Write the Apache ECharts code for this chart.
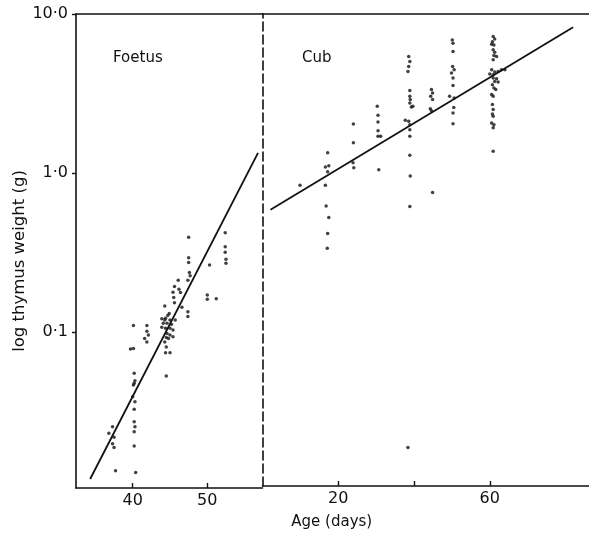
<!DOCTYPE html>
<html>
<head>
<meta charset="utf-8">
<script src="https://cdn.jsdelivr.net/npm/echarts@6.0.0/dist/echarts.min.js"></script>
<style>
  html, body { margin: 0; padding: 0; background: #fff; }
  #chart { width: 589px; height: 535px; }
</style>
</head>
<body>
<div id="chart"></div>
<script>
// foetal thymus weights: [age in days, weight in g]
var foetusPoints = [
  [36.8, 0.0231], [37.3, 0.0254], [37.5, 0.0218], [37.3, 0.0198], [37.5, 0.0188], [37.7, 0.0134],
  [40.1, 0.110], [39.7, 0.0782], [40.1, 0.0789], [40.2, 0.055], [40.3, 0.0494], [40.2, 0.0476],
  [40.1, 0.0464], [40.0, 0.0392], [40.3, 0.0365], [40.2, 0.0327], [40.2, 0.0273], [40.3, 0.0254],
  [40.2, 0.0236], [40.2, 0.0192], [40.4, 0.0131],
  [41.9, 0.110], [41.9, 0.101], [42.1, 0.0958], [41.6, 0.0912], [41.9, 0.0866],
  [44.3, 0.146], [44.9, 0.131], [44.7, 0.127], [44.4, 0.122], [43.9, 0.121], [44.3, 0.119],
  [45.0, 0.119], [45.7, 0.119], [44.1, 0.1135], [44.6, 0.1135], [45.2, 0.112], [43.9, 0.107],
  [44.4, 0.1055], [45.0, 0.1055], [45.4, 0.103], [44.6, 0.098], [45.0, 0.0958], [45.4, 0.0934],
  [44.5, 0.0925], [44.8, 0.0912], [44.3, 0.0866], [44.5, 0.0806], [44.4, 0.0741], [45.0, 0.0741],
  [44.5, 0.0529], [46.1, 0.212], [45.6, 0.193], [46.2, 0.186], [45.4, 0.178], [46.4, 0.177],
  [45.5, 0.165], [45.6, 0.153], [46.6, 0.143],
  [47.5, 0.394], [47.5, 0.293], [47.5, 0.274], [47.6, 0.237], [47.7, 0.226], [47.4, 0.212],
  [47.4, 0.134], [47.4, 0.125],
  [50.3, 0.264], [50.0, 0.171], [50.0, 0.161], [51.2, 0.162],
  [52.4, 0.421], [52.4, 0.344], [52.4, 0.317], [52.5, 0.287], [52.5, 0.271]
];

// cub thymus weights: [age in days after birth, weight in g]
var cubPoints = [
  [9.9, 0.828],
  [17.2, 1.33], [16.6, 1.08], [17.5, 1.10], [17.2, 1.01], [16.6, 0.828], [16.8, 0.614],
  [17.5, 0.519], [17.2, 0.411], [17.1, 0.331],
  [24.0, 2.02], [24.0, 1.54], [23.9, 1.15], [24.1, 1.07],
  [30.3, 2.61], [30.5, 2.29], [30.5, 2.08], [30.5, 1.83], [30.5, 1.69], [31.2, 1.69], [30.7, 1.04],
  [38.6, 5.39], [38.9, 5.01], [38.6, 4.66], [38.4, 4.34], [38.9, 3.29], [38.9, 3.02], [39.0, 2.88],
  [38.9, 2.74], [39.3, 2.59], [39.7, 2.61], [37.7, 2.13], [38.6, 2.10], [38.9, 2.00], [38.9, 1.86],
  [38.9, 1.69], [38.9, 1.28], [39.0, 0.948], [38.9, 0.608], [38.4, 0.0183],
  [44.6, 3.33], [44.9, 3.17], [44.4, 3.02], [44.9, 2.88], [44.3, 2.52], [44.6, 2.45], [44.9, 0.745],
  [50.1, 6.86], [50.3, 6.54], [50.3, 5.79], [50.2, 4.66], [50.6, 4.45], [49.9, 4.24], [50.3, 3.94],
  [50.3, 3.54], [49.4, 3.02], [50.6, 2.95], [50.5, 2.57], [50.3, 2.37], [50.3, 2.03],
  [60.9, 7.20], [61.3, 6.96], [60.7, 6.69], [60.5, 6.45], [61.1, 6.38], [60.9, 5.94], [61.3, 5.74],
  [61.1, 5.47], [61.8, 5.39], [60.9, 5.14], [60.5, 4.45], [60.0, 4.18], [60.9, 4.13], [61.3, 4.30],
  [62.2, 4.34], [63.1, 4.45], [64.0, 4.45], [60.9, 3.94], [61.8, 3.90], [61.3, 3.75], [62.2, 3.72],
  [60.7, 3.57], [61.1, 3.41], [61.6, 3.33], [60.5, 3.10], [60.9, 3.02], [60.7, 2.68], [60.9, 2.49],
  [60.7, 2.34], [60.9, 2.26], [60.5, 2.05], [61.1, 2.00], [60.9, 1.91], [60.9, 1.36]
];

// fitted lines (end points)
var foetusLine = [[34.3, 0.0119], [56.8, 1.34]];
var cubLine = [[2.1, 0.58], [82.0, 8.25]];

var foetusTicks = [40, 50];
var cubTicks = [20, 40, 60];
var cubTickLabels = [20, 60];
var weightTicks = [0.1, 1, 10];
var weightLabels = { '0.1': '0·1', '1': '1·0', '10': '10·0' };

var ink = '#111';
var numFont = 'DejaVu Sans';

var chart = echarts.init(document.getElementById('chart'));

var axisLine = { show: true, onZero: false, lineStyle: { color: ink, width: 1.6 } };

var option = {
  backgroundColor: '#fff',
  animation: false,
  grid: [
    { left: 76, top: 14, width: 186.5, bottom: 47 },
    { left: 262.5, top: 14, right: 0, bottom: 47 }
  ],
  xAxis: [
    {
      gridIndex: 0, type: 'value', min: 32.4, max: 57.4,
      axisLine: axisLine,
      axisTick: { show: true, inside: true, length: 5, customValues: foetusTicks, lineStyle: { color: ink, width: 1.4 } },
      axisLabel: { customValues: foetusTicks, margin: 5, color: ink, fontFamily: numFont, fontSize: 16 },
      splitLine: { show: false }
    },
    {
      gridIndex: 1, type: 'value', min: 0, max: 86.2,
      name: 'Age (days)', nameLocation: 'middle', nameGap: 29,
      nameTextStyle: { color: ink, fontFamily: 'DejaVu Sans', fontSize: 15, padding: [0, 188, 0, 0] },
      axisLine: axisLine,
      axisTick: { show: true, inside: true, length: 5, customValues: cubTicks, lineStyle: { color: ink, width: 1.4 } },
      axisLabel: { customValues: cubTickLabels, margin: 5, color: ink, fontFamily: numFont, fontSize: 16 },
      splitLine: { show: false }
    },
    {
      gridIndex: 0, type: 'value', position: 'top', min: 0, max: 1,
      axisLine: axisLine, axisTick: { show: false }, axisLabel: { show: false }, splitLine: { show: false }
    },
    {
      gridIndex: 1, type: 'value', position: 'top', min: 0, max: 1,
      axisLine: axisLine, axisTick: { show: false }, axisLabel: { show: false }, splitLine: { show: false }
    }
  ],
  yAxis: [
    {
      gridIndex: 0, type: 'log', logBase: 10, min: 0.01045, max: 10,
      name: 'log thymus weight (g)', nameLocation: 'middle', nameGap: 44,
      nameTextStyle: { color: ink, fontFamily: 'DejaVu Sans', fontSize: 16.5, padding: [0, 20, 0, 0] },
      axisLine: axisLine,
      axisTick: { show: true, length: 4, customValues: weightTicks, lineStyle: { color: ink, width: 1.4 } },
      axisLabel: {
        customValues: weightTicks, margin: 8, color: ink, fontFamily: numFont, fontSize: 16,
        formatter: function (v) { return weightLabels[String(+v.toPrecision(3))] || ''; }
      },
      splitLine: { show: false }
    },
    {
      gridIndex: 1, type: 'log', logBase: 10, min: 0.01045, max: 10,
      axisLine: { show: true, onZero: false, lineStyle: { color: ink, width: 1.6, type: [9, 4] } },
      axisTick: { show: false }, axisLabel: { show: false }, splitLine: { show: false }
    }
  ],
  graphic: [
    { type: 'text', left: 113, top: 51, style: { text: 'Foetus', fill: ink, font: '15px "DejaVu Sans"' } },
    { type: 'text', left: 302, top: 51, style: { text: 'Cub', fill: ink, font: '15px "DejaVu Sans"' } }
  ],
  series: [
    {
      name: 'Foetus', type: 'scatter', xAxisIndex: 0, yAxisIndex: 0,
      data: foetusPoints, symbolSize: 3.5, itemStyle: { color: ink }
    },
    {
      name: 'Cub', type: 'scatter', xAxisIndex: 1, yAxisIndex: 1,
      data: cubPoints, symbolSize: 3.5, itemStyle: { color: ink }
    },
    {
      name: 'Foetus fit', type: 'line', xAxisIndex: 0, yAxisIndex: 0,
      data: foetusLine, showSymbol: false, lineStyle: { color: ink, width: 1.8 }
    },
    {
      name: 'Cub fit', type: 'line', xAxisIndex: 1, yAxisIndex: 1,
      data: cubLine, showSymbol: false, lineStyle: { color: ink, width: 1.8 }
    }
  ]
};

chart.setOption(option);
</script>
</body>
</html>
